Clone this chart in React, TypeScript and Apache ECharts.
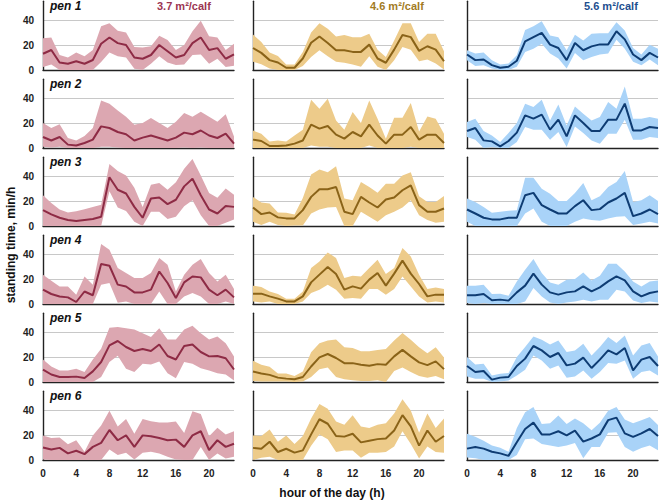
import React, { useEffect, useRef } from 'react';
import * as echarts from 'echarts';

const hours = ['0','1','2','3','4','5','6','7','8','9','10','11','12','13','14','15','16','17','18','19','20','21','22','23'];
const penLabels = ['pen 1', 'pen 2', 'pen 3', 'pen 4', 'pen 5', 'pen 6'];
const spaceLabels = ['3.7 m²/calf', '4.6 m²/calf', '5.6 m²/calf'];
const yTitle = 'standing time, min/h';
const xTitle = 'hour of the day (h)';

// ---- 3.7 m²/calf ----
const a1Mean = [13,16,6,5,7,5,8,21,26,21.5,20,10,9,12,20,15,10,12,21.5,26,16,17.5,9,12.5];
const a1Hi = [25.5,26,12,10,14,11,16,35,37.5,31.5,30,18.5,18,19,27.5,24,16,20,31,39.5,27,26,16,21];
const a1Lo = [2.5,4.5,0,0,0,0,0,6.5,14,11,10,1,0,5,11,6,4,4.5,12,12.5,5,9,2.5,3.5];
const a2Mean = [8.8,6,8.8,2.7,2,4,6.7,17.3,16,12.8,11,6,8.3,10,8,6,8.3,12.3,11,14,10,8,11.5,3.5];
const a2Hi = [20,16,19,8,6,9.6,16,38,35.5,30,25,18.7,20,24,20,16,21,28,25,29,25,21,27,9.3];
const a2Lo = [1,0.5,1,0,0,0,0,1,1,0.5,0,0,0,0,0,0,0,0.5,0,0.5,0,0,0,0];
const a3Mean = [12.7,9.3,6.6,4.8,4,4.8,5.6,7.4,39,29,26,15.3,6.6,22,22.8,17.5,21,31.7,37.8,24.6,13.2,10,16,15.3];
const a3Hi = [24.6,18.5,13.2,10.8,11.9,13.5,15.3,17,49.7,44,40.5,30.7,15.3,33,34.4,29,35,45.8,53.7,40.5,26.5,22.7,30,25];
const a3Lo = [0,0,0,0,0,0,0,0,27.8,14.8,12,3.4,0,11.4,11.4,5.6,7.4,15.9,20.6,8.7,0,0,2.6,5.3];
const a4Mean = [11.5,8,6,5.3,1.6,10,7,32,30.6,15.5,14,9.3,9.3,11.5,26,16.8,4.8,17.3,22,21.3,11.5,7,11.5,5.3];
const a4Hi = [23.5,18.7,14,14,7.5,22,15.5,48,43.5,28.8,24.8,20.8,20.8,24.8,36.8,31.5,10,23.5,31.5,36,24.8,18,23.5,12];
const a4Lo = [0,0,0,0,0,0,0,15.5,16.8,1,2,0,0,0,10,0,0,6,8.8,6,0,0,2,0];
const a5Mean = [9.9,6,4,4,4.3,3.2,8.5,16,29.3,32.8,28,24.8,26.4,24.8,30,20.8,18,28.8,30,24,20.5,20.8,19,10];
const a5Hi = [18,12.5,9.3,9.3,10.7,8,18,26.7,43.5,44,43,42,39,36,43,34,34,42,45,39,34,36.5,31,20.5];
const a5Lo = [0,0,0,0,0,0,0,4,16,21,10.7,8,14.7,14,16.5,7,3,16,14.7,11,9.3,7,6,1.3];
const a6Mean = [10,8.4,9.7,5.3,7.4,4.7,10.5,13.7,24,15.8,19.7,10.5,19.7,19,17.6,15.8,16.3,10.5,19.7,23,8,15.8,10.5,13];
const a6Hi = [19.7,17.6,18,12.6,15.8,6.6,19.7,27.6,39.5,26.8,32.9,21,32.9,31,30,30,30.8,21.6,39,36.8,19,25.8,20.5,23];
const a6Lo = [0.5,0,0,0,0,0,0,0,8.4,4,5.8,0.5,5.8,6.6,5.3,2.6,0.5,0,0,10.5,0,5.3,1.3,2.6];

// ---- 4.6 m²/calf ----
const b1Mean = [17.6,13.7,7.9,6,1.8,1.8,9.2,21.8,26.8,21.6,15.8,15.8,14.5,14.5,20.3,9.2,5.8,16.3,28,26.3,15.3,19,16.3,7];
const b1Hi = [28.4,22.4,14,11.3,4.5,4.5,14.5,30,37.4,33,26.8,28,26.3,26.3,29,16.3,10.5,23.7,37.4,37.4,22.4,29,29,15];
const b1Lo = [6.6,4.7,1.3,0,0,0,3.2,10.5,15.8,11,6.6,5.8,4.5,2.6,11,2.6,0,7.9,18.4,16.3,7,8.4,5.3,0.5];
const b2Mean = [6.7,5.6,1.6,1.6,2,3.5,6,18.7,15.5,17.6,10.7,7.5,12.8,9.3,18.7,10,3.5,10.7,10.7,16.8,6.7,10.7,10.7,4];
const b2Hi = [14,11.5,5.3,6,5.3,10,14.7,38.7,31.5,39.5,22,14.7,28.8,20,38,23.5,7.5,24.3,24.3,36,13.3,25.3,23.5,11.5];
const b2Lo = [0,0,0,0,0,0,0,2,1,1,0,0,0,0,2,0,0,0,0,1,0,0,0,0];
const b3Mean = [14.8,9.5,10.8,6.9,6.1,6.1,12.7,23.3,29.4,29.4,31.2,11.4,9.5,23.3,18.8,14.8,21.2,22.8,28.6,32.5,16.7,11.4,11.4,14];
const b3Hi = [23.3,18.8,18,10.8,10.6,9.3,22.5,41.3,45.2,43,47.9,22,20.6,35.2,31.2,26.7,33.9,33.9,40.5,43,23.8,19.3,19.3,24];
const b3Lo = [3.4,0.8,3.4,0.8,0,0.5,0.5,10,13.2,14.8,15.3,0,0,11.4,7.4,3.4,8.7,11.4,14.8,20.6,8.7,4.8,2.6,3.4];
const b4Mean = [8.3,8.3,6.1,4.3,2.1,2.1,6.1,17.3,23.5,29.6,24,11.5,14.1,12.3,19.5,24.8,14.7,24.3,34.7,24.3,16,6.1,7.5,7.5];
const b4Hi = [14.7,13.6,10.1,8,4.3,4.3,10.1,28.8,34.1,41.3,36.8,20.8,22.7,22.1,28.8,35.5,24,28.8,44.8,38.1,23.5,12,13.3,12];
const b4Lo = [2.1,1.3,2.1,0,0,0,2.1,8.8,11.5,15.5,11.5,4.3,4.8,4.3,12,12,7.5,12,22.1,14.1,6.1,1.3,2.1,1.3];
const b5Mean = [8.4,6.8,5.7,3.5,2.7,2.2,4,12.4,19.7,22.4,19.2,15.1,15.1,13.8,13,14.3,13.8,20.5,25.7,20.5,15.7,13.5,16.5,10.3];
const b5Hi = [17,13.8,12.2,6.8,6.8,4.9,8.4,23.8,31,33.2,34,27.8,27.3,24.6,24.6,25.7,26.5,33.2,39.2,33.8,27.8,23,27.8,19.7];
const b5Lo = [0.8,0.5,0.5,0.5,0.5,0,0.5,4,10.3,11.6,4,2.2,1.4,0.8,0.8,1.4,0,8.9,11.6,8.1,4.9,3.5,4.9,2.2];
const b6Mean = [9.7,9,14.6,6.4,9,5.9,7.7,20.5,32.6,29,19.2,18.7,21,14.1,15.4,16.7,17.2,23.6,35.9,26.9,11.5,23.6,14.6,19.2];
const b6Hi = [19.7,19.2,24.4,14.6,19.7,12.8,19.2,33.3,44.9,41,30.8,28.2,35.9,26.9,25.6,28.2,29.5,37.2,48.7,39.7,21.8,37.2,25.6,33.3];
const b6Lo = [0,1.8,2.6,0,0,0,0,11.5,20.5,16.7,6.4,7.7,7.7,1.8,5.9,5.9,6.4,10.8,23,12.8,1.3,10.8,6.4,5.9];

// ---- 5.6 m²/calf ----
const c1Mean = [12.4,7.9,8.4,3.9,1.8,2.6,7.4,22.9,26.3,29.7,20.3,17.6,7.9,21.6,15.8,18.9,20.5,20.5,31,24.5,12.4,7.9,13.7,10];
const c1Hi = [15.8,13.2,14,7.9,4.5,5.3,11.8,32,35,39,27.6,26.3,15.8,28.2,23.7,29,29.5,29.5,38.2,31.6,17.6,12.4,20.3,17.1];
const c1Lo = [7.9,3.2,3.9,1.3,0,0,2.6,14.5,17.1,21,13.2,9.2,1.3,13.7,7.9,10.5,12.4,13.2,24.2,17.1,6.6,3.9,8.4,3.9];
const c2Mean = [13.6,16,6.1,5.3,1.3,5.6,12.3,26.1,23.5,26.7,14.7,22.7,9.3,26.1,20,13.6,13.6,22.7,22.7,35.5,14.1,14.1,16.8,16];
const c2Hi = [20.8,23.5,13.6,10.1,4.8,12,20,35.5,32.8,38.7,22.1,34.9,18.1,33.3,27.5,22.1,24.8,36.8,31.5,49.3,23.5,23.5,24.8,23.5];
const c2Lo = [8.8,6.7,0,0.8,0,0,4.8,16.8,14.7,14.7,6.7,12.8,0.8,17.3,12,6.1,3.5,11.5,11.5,22.7,6.7,6.7,8.8,8];
const c3Mean = [13.2,10,6.6,5.3,5.3,6.6,6.6,24.6,26.5,16.7,13.2,10,10,15.9,20.6,12.7,13.5,18.8,22,26.5,7.9,10,13.2,9.5];
const c3Hi = [22,19.3,15.3,10.6,11.4,12.2,12.7,38.6,38.6,29.9,25.9,20.1,20.1,26.5,34.4,20.6,23.8,31.2,35.2,44,19.3,20.6,24.6,20.1];
const c3Lo = [3.4,0,0,0,0,0,0,10,14,3.4,0,0,0,3.4,6,4.8,4.2,6,7.4,7.9,0.8,2.1,3.4,2.1];
const c4Mean = [7,7,8,3,3.5,2.7,9.3,14.7,24.3,15.5,9.3,7.5,9.3,10.1,14.1,10.1,13.3,18.1,22.1,18.9,10.1,6.1,8.8,10.1];
const c4Hi = [14.7,14.7,15.5,8,8.3,6.7,18.1,27.5,36,24.8,17.3,15.5,19.5,20,25.3,18.9,22.7,32.3,32.3,26.1,18.1,14.1,18.1,18.9];
const c4Lo = [0.8,0,0.8,0,0,0,0,2.1,12.8,6.1,1.3,0,1.3,2.1,3.5,2.1,3.5,3.5,11.5,10.1,2.9,0.8,2.1,1.3];
const c5Mean = [12.8,8,8.8,1.9,3.5,4,12.8,18.7,28.8,25.3,20,23.2,13.3,14.7,19.5,11.2,17.9,25.3,22.1,27.2,9.3,17.9,20,12.8];
const c5Hi = [20,14.1,14.7,5.3,6.7,7.2,20,28,36.5,33.9,30.1,33.3,24,25.3,30.7,21.3,28,36,31.2,37.3,21.3,29.3,31.2,20.5];
const c5Lo = [4.5,2.7,2.7,0,0.5,1.3,5.3,9.9,21.3,17.3,10.7,13.3,3.5,4.5,9.3,2.7,8,15.2,14.7,17.3,2.7,8,9.3,5.3];
const c6Mean = [9.1,10.4,9.1,6.6,5.3,3.3,14.2,24.8,29.9,20.5,20.5,23,19.7,23.5,14.7,17.2,20.5,31.9,33.9,21.3,18.5,21.3,24.8,19.2];
const c6Hi = [21,18.7,15.4,11.6,9.9,6.6,25.6,38.2,42.5,28.9,29.4,35.7,28.9,33.2,29.4,23.8,29.9,39.5,42.5,32.4,29.4,31.9,34.4,28.1];
const c6Lo = [2,1.5,0,0,0,0,4,16.7,17.2,12.9,11.6,10.4,11.6,13.7,1.5,10.4,10.4,21.8,22.3,10.4,6.6,9.6,11.6,7.8];

const panels = [
  [[a1Mean, a1Lo, a1Hi], [b1Mean, b1Lo, b1Hi], [c1Mean, c1Lo, c1Hi]],
  [[a2Mean, a2Lo, a2Hi], [b2Mean, b2Lo, b2Hi], [c2Mean, c2Lo, c2Hi]],
  [[a3Mean, a3Lo, a3Hi], [b3Mean, b3Lo, b3Hi], [c3Mean, c3Lo, c3Hi]],
  [[a4Mean, a4Lo, a4Hi], [b4Mean, b4Lo, b4Hi], [c4Mean, c4Lo, c4Hi]],
  [[a5Mean, a5Lo, a5Hi], [b5Mean, b5Lo, b5Hi], [c5Mean, c5Lo, c5Hi]],
  [[a6Mean, a6Lo, a6Hi], [b6Mean, b6Lo, b6Hi], [c6Mean, c6Lo, c6Hi]],
];

const lineColors = ['#8E2B45', '#8A6318', '#0E3C73'];
const fillColors = ['#DCA7B1', '#EDCB8A', '#A9D3F8'];
const headColors = ['#9B3552', '#A27B1F', '#1E4F8F'];

const FONT = '"Liberation Sans", Arial, Helvetica, sans-serif';
const colLeft = [43, 253, 467];
const colWidth = 191;
const rowTop = (r: number) => 1.25 + 78 * r;
const rowH = 68.75;
const headX = [157, 370, 584];

export default function App() {
  const ref = useRef<HTMLDivElement>(null);
  useEffect(() => {
    if (!ref.current) return;
    const chart = echarts.init(ref.current, null, { renderer: 'svg' });
    const grid: any[] = [];
    const xAxis: any[] = [];
    const yAxis: any[] = [];
    const series: any[] = [];
    const graphic: any[] = [];
    for (let r = 0; r < 6; r++) {
      for (let c = 0; c < 3; c++) {
        const k = r * 3 + c;
        const [mean, lo, hi] = panels[r][c];
        grid.push({ left: colLeft[c], top: rowTop(r), width: colWidth, height: rowH, containLabel: false });
        xAxis.push({
          type: 'category', gridIndex: k, data: hours, boundaryGap: false,
          axisLine: { show: true, lineStyle: { color: '#222', width: 1.4 } },
          axisTick: { show: false },
          splitLine: { show: false },
          axisLabel: {
            show: r === 5, interval: 3, fontSize: 10, fontWeight: 'bold', color: '#222',
            fontFamily: FONT, margin: 8,
          },
        });
        yAxis.push({
          type: 'value', gridIndex: k, min: 0, max: 55, interval: 20,
          axisLine: { show: true, lineStyle: { color: '#222', width: 1.4 } },
          axisTick: { show: false },
          splitLine: {
            show: true, showMaxLine: false,
            lineStyle: { color: ['#c8c8c8', '#c8c8c8', '#c8c8c8', 'rgba(0,0,0,0)'], width: 1 },
          },
          axisLabel: {
            show: c === 0, fontSize: 10, fontWeight: 'bold', color: '#222', fontFamily: FONT,
            margin: 9, showMaxLabel: false,
            formatter: (v: number) => (v === 55 ? '' : String(v)),
          },
        });
        series.push({
          type: 'line', xAxisIndex: k, yAxisIndex: k, data: lo, stack: 'band' + k,
          symbol: 'none', silent: true, lineStyle: { opacity: 0, width: 0 },
          areaStyle: { opacity: 0 }, z: 1,
        });
        series.push({
          type: 'line', xAxisIndex: k, yAxisIndex: k,
          data: hi.map((h: number, i: number) => +(h - lo[i]).toFixed(2)), stack: 'band' + k,
          symbol: 'none', silent: true, lineStyle: { opacity: 0, width: 0 },
          areaStyle: { color: fillColors[c], opacity: 1 }, z: 2,
        });
        series.push({
          type: 'line', xAxisIndex: k, yAxisIndex: k, data: mean,
          symbol: 'none', silent: true, lineStyle: { color: lineColors[c], width: 2 }, z: 3,
        });
      }
      graphic.push({
        type: 'text', left: 50, top: rowTop(r) - 1.5,
        style: { text: penLabels[r], font: `italic bold 12px ${FONT}`, fill: '#111' },
      });
    }
    for (let c = 0; c < 3; c++) {
      graphic.push({
        type: 'text', left: headX[c], top: 0,
        style: { text: spaceLabels[c], font: `bold 11px ${FONT}`, fill: headColors[c] },
      });
    }
    graphic.push({
      type: 'text', x: 11, y: 245, rotation: Math.PI / 2,
      style: { text: yTitle, font: `bold 12px ${FONT}`, fill: '#111', align: 'center', verticalAlign: 'middle' },
    });
    graphic.push({
      type: 'text', x: 332, y: 493,
      style: { text: xTitle, font: `bold 12px ${FONT}`, fill: '#111', align: 'center', verticalAlign: 'middle' },
    });
    chart.setOption({
      animation: false,
      backgroundColor: '#ffffff',
      grid, xAxis, yAxis, series, graphic,
    });
    return () => chart.dispose();
  }, []);
  return <div ref={ref} style={{ position: 'fixed', left: 0, top: 0, width: 660, height: 501 }} />;
}
